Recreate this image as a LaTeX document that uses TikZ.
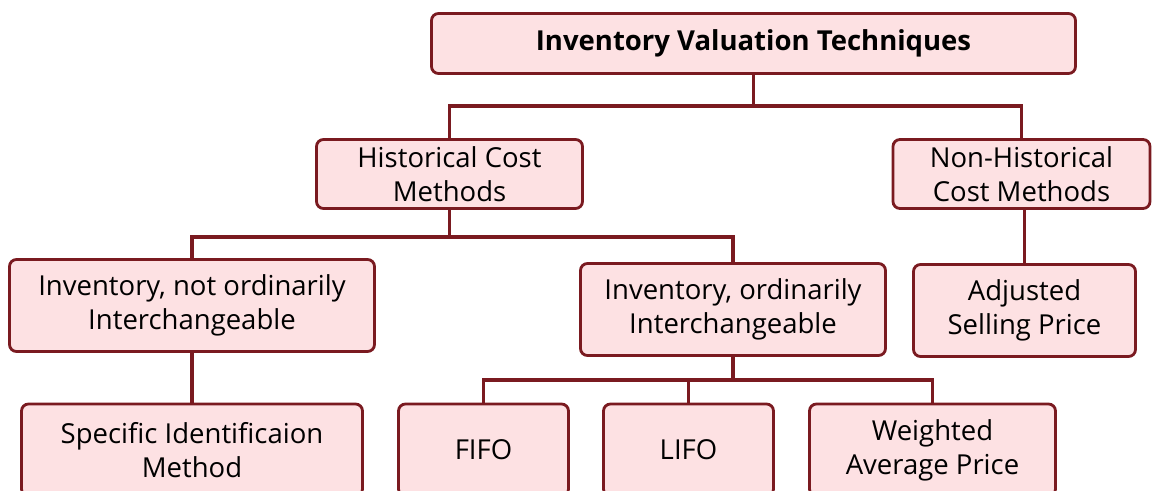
\documentclass[tikz,border=0pt]{standalone}
\usepackage{fontspec}
\setmainfont{Open Sans}
\usetikzlibrary{positioning, calc}
\definecolor{linkred}{HTML}{7A1A20}
\definecolor{boxpink}{HTML}{FDE1E3}
\tikzstyle{link} = [line width=3.6pt, draw=linkred]
\tikzstyle{method} = [rectangle, rounded corners=7pt, draw=linkred, line width=2.8pt, fill=boxpink, text centered, align=center, inner sep=2pt, minimum height=92pt]

\begin{document}
\begin{tikzpicture}[x=1pt, y=-1pt,
        every node/.style={font=\fontsize{27.5}{34}\selectfont}]
    \useasboundingbox (0,0) rectangle (1153,490);
    \clip (0,0) rectangle (1153,490);

    \node [method, minimum width=644pt, minimum height=60pt, font=\bfseries\fontsize{27.5}{34}\selectfont] (valuation) at (753.5,43.5) {Inventory Valuation Techniques};

    \node [method, minimum width=266pt, minimum height=69pt] (historical) at (449.5,174) {Historical Cost\\Methods};
    \node [method, minimum width=257pt, minimum height=69pt] (nonhistorical) at (1021.5,174) {Non-Historical\\Cost Methods};

    \node [method, minimum width=365pt] (notinter) at (192,305.5) {Inventory, not ordinarily\\Interchangeable};
    \node [method, minimum width=305pt] (inter) at (733,309.5) {Inventory, ordinarily\\Interchangeable};
    \node [method, minimum width=222pt] (adjusted) at (1024.5,310.5) {Adjusted\\Selling Price};

    \node [method, minimum width=341pt] (specific) at (192,450) {Specific Identificaion\\Method};
    \node [method, minimum width=170pt] (fifo) at (483.5,450) {FIFO};
    \node [method, minimum width=170pt] (lifo) at (688.5,450) {LIFO};
    \node [method, minimum width=246pt] (weighted) at (932.5,450) {Weighted\\Average Price};

    \draw[link] (valuation.south) -- ++(0,31) -| (historical.north);
    \draw[link] (valuation.south) -- ++(0,31) -| (nonhistorical.north);
    \draw[link] (historical.south) -- ++(0,27) -| (notinter.north);
    \draw[link] (historical.south) -- ++(0,27) -| (inter.north);
    \draw[link] (adjusted.north |- nonhistorical.south) -- (adjusted.north);
    \draw[link] (notinter.south) -- (specific.north);
    \draw[link] (inter.south) -- ++(0,23) -| (fifo.north);
    \draw[link] (inter.south) -- ++(0,23) -| (lifo.north);
    \draw[link] (inter.south) -- ++(0,23) -| (weighted.north);
\end{tikzpicture}
\end{document}
